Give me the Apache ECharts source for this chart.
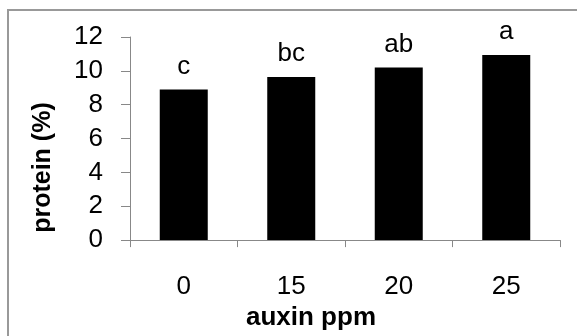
<!DOCTYPE html>
<html>
<head>
<meta charset="utf-8">
<script src="https://cdn.jsdelivr.net/npm/echarts@6/dist/echarts.min.js"></script>
<style>
  html, body { margin: 0; padding: 0; background: #fff; }
  #frame { position: absolute; left: 7px; top: 9px; right: 0; bottom: 0; border-left: 2px solid #999; border-top: 2px solid #999; }
  #chart { position: absolute; left: 0; top: 0; width: 577px; height: 336px; }
</style>
</head>
<body>
<div id="frame"></div>
<div id="chart"></div>
<script>
// auxin dose (ppm) on x axis
const categories = ["0", "15", "20", "25"];
// protein content (%)
const protein = [8.9, 9.64, 10.2, 10.93];
// significance letters over the bars
const letters = ["c", "bc", "ab", "a"];

const font = "'Liberation Sans', Arial, sans-serif";
const axisGray = "#888";

const chart = echarts.init(document.getElementById("chart"));

const option = {
  animation: false,
  grid: { left: 130, right: 17, top: 37, bottom: 89 },
  xAxis: {
    type: "category",
    data: categories,
    name: "auxin ppm",
    nameLocation: "middle",
    nameGap: 60,
    nameTextStyle: {
      fontFamily: font,
      fontSize: 26,
      fontWeight: "bold",
      color: "#000",
      padding: [0, 68, 0, 0],
    },
    axisLine: { lineStyle: { color: axisGray, width: 1 } },
    axisTick: { show: true, length: 7, lineStyle: { color: axisGray } },
    axisLabel: { fontFamily: font, fontSize: 26, color: "#000", margin: 34 },
  },
  yAxis: {
    type: "value",
    min: 0,
    max: 12,
    interval: 2,
    name: "protein (%)",
    nameLocation: "middle",
    nameGap: 74,
    nameRotate: 90,
    nameTextStyle: {
      fontFamily: font,
      fontSize: 25,
      fontWeight: "bold",
      color: "#000",
      padding: [0, 58, 0, 0],
    },
    splitLine: { show: false },
    axisLine: { show: true, lineStyle: { color: axisGray, width: 1 } },
    axisTick: { show: true, length: 9, lineStyle: { color: axisGray } },
    axisLabel: { fontFamily: font, fontSize: 26, color: "#000", margin: 27 },
  },
  series: [
    {
      type: "bar",
      data: protein,
      barWidth: 48,
      itemStyle: { color: "#000" },
      label: {
        show: true,
        position: "top",
        distance: 10,
        fontFamily: font,
        fontSize: 26,
        color: "#000",
        formatter: (p) => letters[p.dataIndex],
      },
    },
  ],
};

chart.setOption(option);
</script>
</body>
</html>
